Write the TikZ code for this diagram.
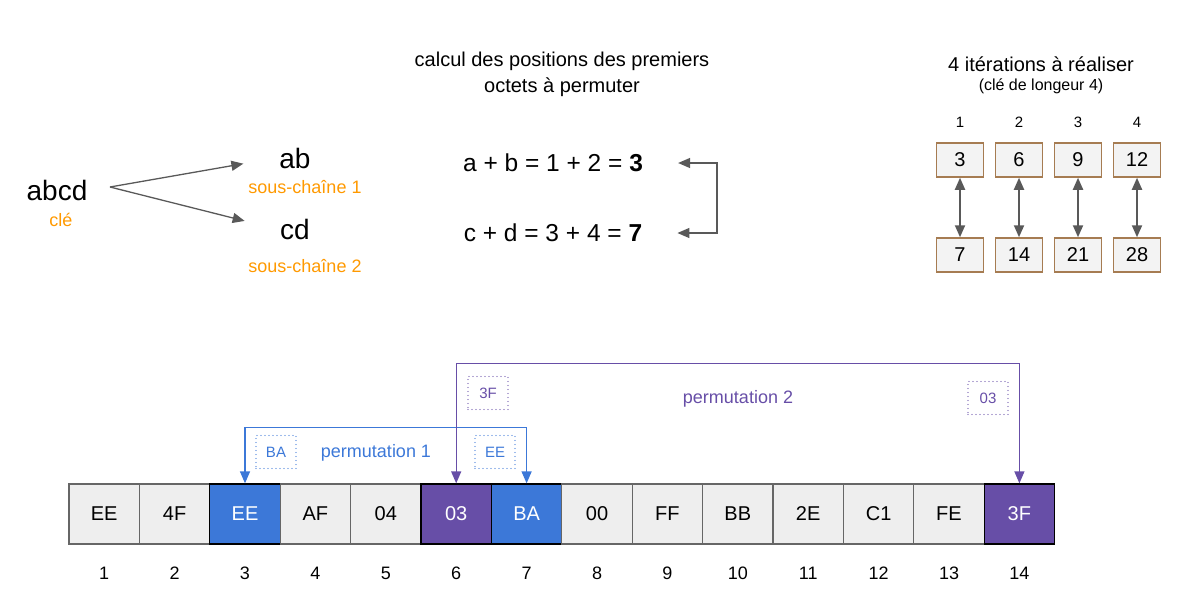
\documentclass[tikz,border=0pt]{standalone}
\usepackage{fontspec}
\setmainfont{Liberation Sans}
\usetikzlibrary{positioning,arrows.meta}
\definecolor{orangecle}{HTML}{FF9900}
\definecolor{gris}{HTML}{595959}
\definecolor{brun}{HTML}{A67C52}
\definecolor{fondboite}{HTML}{F3F3F3}
\definecolor{fondgris}{HTML}{EEEEEE}
\definecolor{fondbleu}{HTML}{3C78D8}
\definecolor{fondviolet}{HTML}{674EA7}
\definecolor{bordgris}{HTML}{666666}
\definecolor{bordbleu}{HTML}{000000}
\definecolor{bordviolet}{HTML}{000000}
\definecolor{textegris}{HTML}{000000}
\definecolor{textebleu}{HTML}{FFFFFF}
\definecolor{texteviolet}{HTML}{FFFFFF}
\begin{document}
\begin{tikzpicture}[x=1pt,y=-1pt,>={Triangle[length=12pt,width=10pt]},
  f28/.style={font=\fontsize{28}{32}\selectfont},
  f24/.style={font=\fontsize{24.5}{28}\selectfont},
  f20/.style={font=\fontsize{20}{26}\selectfont},
  f18/.style={font=\fontsize{18}{22}\selectfont},
  f16/.style={font=\fontsize{16}{20}\selectfont},
  f15/.style={font=\fontsize{15}{18}\selectfont},
  iterbox/.style={draw=brun,line width=1.5pt,fill=fondboite,minimum width=47pt,minimum height=34pt,inner sep=0pt,f20},
  case/.style={line width=1.3pt,minimum width=70.4pt,minimum height=60pt,inner sep=0pt,f20},
  tampon/.style={line width=1.3pt,line cap=round,dash pattern=on 0pt off 4pt,minimum width=40pt,minimum height=33pt,inner sep=0pt,f15}]
\useasboundingbox (0,0) rectangle (1190,595);
% cle et sous-chaines
\node[f28] (cle) at (57,190) {abcd};
\node[f18,text=orangecle] (clelbl) at (61,220) {clé};
\node[f28] (ab) at (295,158) {ab};
\node[f18,text=orangecle] (ablbl) at (305,187) {sous-chaîne 1};
\node[f28] (cd) at (295,229) {cd};
\node[f18,text=orangecle] (cdlbl) at (305,266) {sous-chaîne 2};
\coordinate (fourche) at (110,187);
\draw[->,gris,line width=1.3pt,shorten >=33pt] (fourche) -- (ab.west);
\draw[->,gris,line width=1.3pt,shorten >=33pt] (fourche) -- (cd.west);
% calcul des positions
\node[f20,align=center] (calcul) at (562,74) {calcul des positions des premiers\\octets à permuter};
\node[f24,inner sep=2pt] (eqA) at (553,163) {a + b = 1 + 2 = \textbf{3}};
\node[f24,inner sep=2pt] (eqB) at (553,233) {c + d = 3 + 4 = \textbf{7}};
\draw[<->,gris,line width=1.3pt] ([xshift=33pt]eqA.east) -- ++(39,0) |- ([xshift=33pt]eqB.east);
% iterations
\node[f20] (iter) at (1041,64) {4 itérations à réaliser};
\node[f16] (longueur) at (1041,86) {(clé de longeur 4)};
\foreach \i/\a/\b in {1/3/7,2/6/14,3/9/21,4/12/28}{
  \node[f15] (num\i) at ({960+59*(\i-1)},122) {\i};
  \node[iterbox] (haut\i) at ({960+59*(\i-1)},160) {\a};
  \node[iterbox] (bas\i) at ({960+59*(\i-1)},255) {\b};
  \draw[<->,gris,line width=2pt] (haut\i) -- (bas\i);
}
% tableau des octets
\foreach \v/\c [count=\i] in {EE/gris,4F/gris,EE/bleu,AF/gris,04/gris,03/violet,BA/bleu,00/gris,FF/gris,BB/gris,2E/gris,C1/gris,FE/gris,3F/violet}{
  \node[case,fill=fond\c,draw=bord\c,text=texte\c] (c\i) at ({69+70.4*(\i-0.5)},514) {\v};
  \node[f18] (idx\i) at ({69+70.4*(\i-0.5)},573) {\i};
}
% permutation 1
\draw[<->,fondbleu,line width=1.3pt] (c3.north) -- ++(0,-56) -| (c7.north);
\node[tampon,draw=fondbleu,text=fondbleu] (tmpBA) at (276,452) {BA};
\node[tampon,draw=fondbleu,text=fondbleu] (tmpEE) at (495,452) {EE};
\node[f18,text=fondbleu] (perm1) at (376,453) {permutation 1};
% permutation 2
\draw[<->,fondviolet,line width=1.3pt] (c6.north) -- ++(0,-120) -| (c14.north);
\node[tampon,draw=fondviolet,text=fondviolet] (tmp3F) at (488,393) {3F};
\node[tampon,draw=fondviolet,text=fondviolet] (tmp03) at (988,398) {03};
\node[f18,text=fondviolet] (perm2) at (738,399) {permutation 2};
\end{tikzpicture}
\end{document}
